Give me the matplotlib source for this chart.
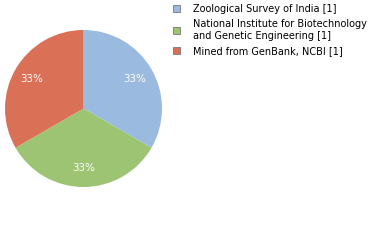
import matplotlib
matplotlib.use('Agg')
import matplotlib.pyplot as plt
from matplotlib.patches import Patch

labels = ['Zoological Survey of India [1]',
          'National Institute for Biotechnology\nand Genetic Engineering [1]',
          'Mined from GenBank, NCBI [1]']
counts = [1, 1, 1]
colors = ['#9bbae0', '#9dc473', '#da7157']

fig = plt.figure(figsize=(3.8, 2.4), dpi=100)
ax = fig.add_axes([5 / 380, 1 - 187 / 240, 157 / 380, 157 / 240])
wedges, texts, autotexts = ax.pie(counts, colors=colors, startangle=90, counterclock=False,
                                  autopct='%d%%', pctdistance=0.76,
                                  textprops={'color': 'white', 'fontsize': 7.4, 'family': 'DejaVu Sans'})
ax.set_xlim(-1, 1)
ax.set_ylim(-1, 1)
ax.set_aspect('equal')

handles = [Patch(facecolor=c, edgecolor='#777777', linewidth=0.6) for c in colors]
fig.legend(handles, labels, loc='upper left', bbox_to_anchor=(173 / 380, 1 - 4 / 240),
           frameon=False, fontsize=7.0, handlelength=0.75, handleheight=0.75,
           handletextpad=1.3, labelspacing=0.55, borderaxespad=0, borderpad=0)

fig.savefig('out.png', dpi=100)
